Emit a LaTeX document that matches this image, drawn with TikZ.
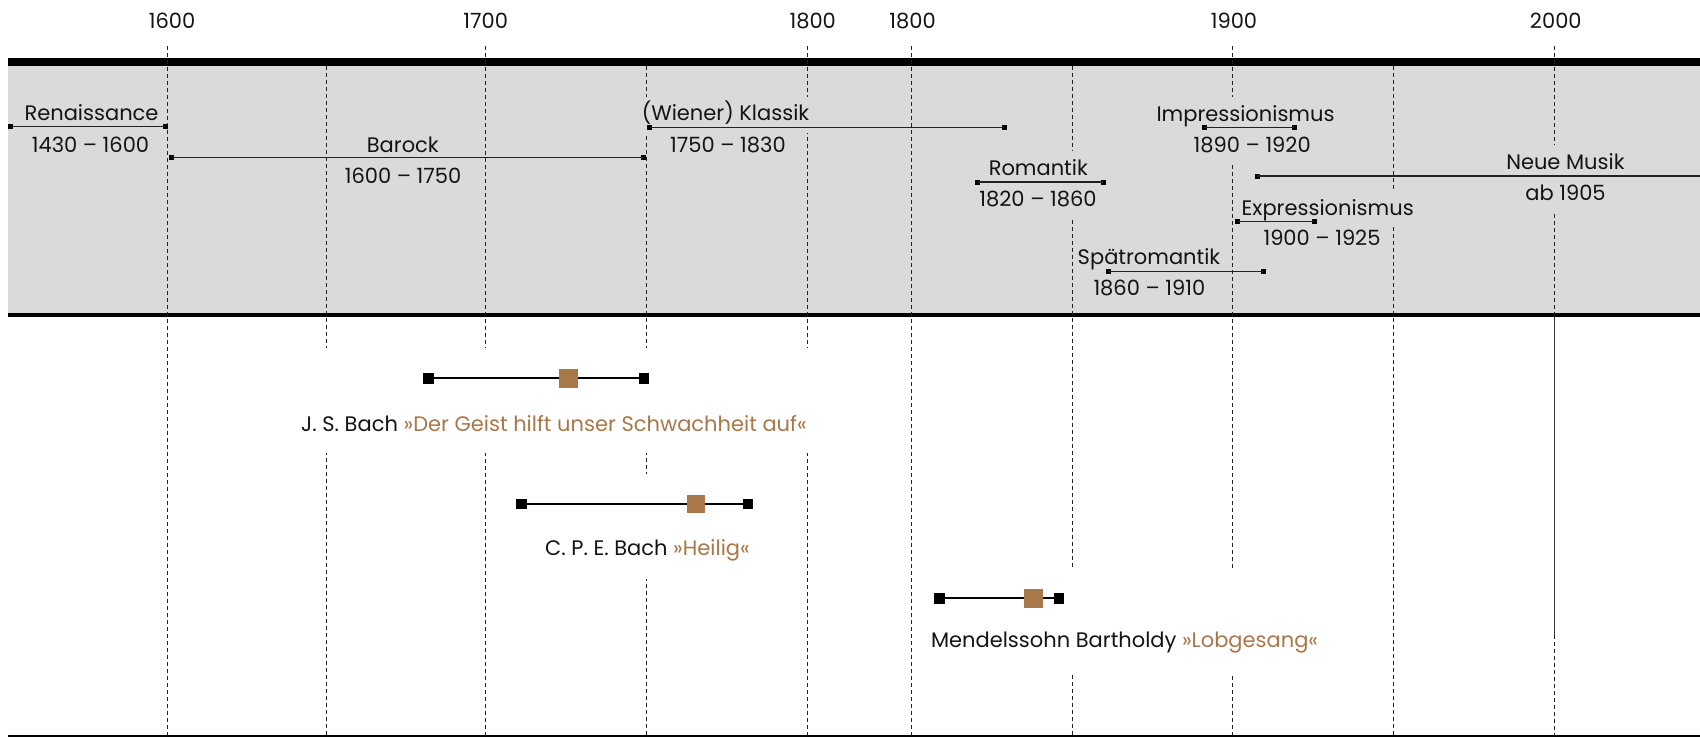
\documentclass[tikz,border=0pt]{standalone}
\usepackage{fontspec}
\setmainfont{Poppins}
\usetikzlibrary{fit}
\definecolor{bandgray}{HTML}{D9DADC}
\definecolor{workbrown}{HTML}{A9784A}
\definecolor{gridcol}{HTML}{222222}
\pgfdeclarelayer{bandlayer}
\pgfdeclarelayer{gridlayer}
\pgfdeclarelayer{masklayer}
\pgfsetlayers{bandlayer,gridlayer,masklayer,main}
\tikzset{
  txt/.style={font=\fontsize{21}{25}\selectfont, inner sep=0pt, anchor=base, text=black!92},
  yearlbl/.style={txt},
  plabel/.style={txt, fill=bandgray, inner xsep=2pt, text height=24pt, text depth=12pt},
  wlabel/.style={txt},
  pmark/.style={fill=black, minimum size=5pt, inner sep=0pt, outer sep=0pt},
  pline/.style={line width=1.2pt, draw=gridcol},
  wmark/.style={fill=black, minimum size=10.5pt, inner sep=0pt, outer sep=0pt},
  wdot/.style={fill=workbrown, minimum size=18.5pt, inner sep=0pt, outer sep=0pt},
  wline/.style={line width=2.2pt, draw=black},
  gridline/.style={line width=1.1pt, draw=gridcol, dash pattern=on 4pt off 3pt},
  denseline/.style={line width=1.6pt, draw=black!80},
  workbox/.style={fill=white, inner xsep=3pt, inner ysep=0pt}
}
\begin{document}
\begin{tikzpicture}[x=1pt,y=-1pt]
\useasboundingbox (0,0) rectangle (1700,737);
% ---------- band ----------
\begin{pgfonlayer}{bandlayer}
  \coordinate (bandTL) at (8,65.7);
  \coordinate (bandBR) at (1700,312.7);
  \fill[bandgray] (bandTL) rectangle (bandBR);
  \coordinate (barTL) at (8,58.3);
  \coordinate (barBR) at (1700,65.7);
  \fill[black] (barTL) rectangle (barBR);
  \coordinate (lowTL) at (8,312.7);
  \coordinate (lowBR) at (1700,316.7);
  \fill[black] (lowTL) rectangle (lowBR);
  \coordinate (baseL) at (8,736);
  \coordinate (baseR) at (1700,736);
  \draw[line width=1.5pt] (baseL) -- (baseR);
\end{pgfonlayer}
% ---------- grid ----------
\begin{pgfonlayer}{gridlayer}
  \foreach \n/\x in {a/167.2,c/485.3,e/807.7,f/911.3,h/1232.8}{
    \coordinate (g\n top) at (\x,46);
    \coordinate (g\n bot) at (\x,736);
    \draw[gridline] (g\n top) -- (g\n bot);
  }
  \coordinate (gjtop) at (1554.3,46);
  \coordinate (gjmidA) at (1554.3,316.7);
  \coordinate (gjmidB) at (1554.3,635);
  \coordinate (gjbot) at (1554.3,736);
  \draw[gridline] (gjtop) -- (gjmidA);
  \draw[denseline] (gjmidA) -- (gjmidB);
  \draw[gridline] (gjmidB) -- (gjbot);
  \foreach \n/\x in {b/326.4,d/646.8,g/1072.4,i/1393.5}{
    \coordinate (g\n top) at (\x,65.7);
    \coordinate (g\n bot) at (\x,736);
    \draw[gridline] (g\n top) -- (g\n bot);
  }
\end{pgfonlayer}
% ---------- year labels ----------
\node[yearlbl] (y1600) at (172,28.3) {1600};
\node[yearlbl] (y1700) at (485.7,28.3) {1700};
\node[yearlbl] (y1800a) at (812.7,28.3) {1800};
\node[yearlbl] (y1800b) at (912.6,28.3) {1800};
\node[yearlbl] (y1900) at (1234,28.3) {1900};
\node[yearlbl] (y2000) at (1555.8,28.3) {2000};
% ---------- periods ----------
% Renaissance
\node[plabel] (renN) at (91.5,120.7) {Renaissance};
\node[plabel] (renD) at (90.5,152.3) {1430 – 1600};
\node[pmark] (renA) at (10.7,126.7) {};
\node[pmark] (renB) at (165.3,126.7) {};
\draw[pline] (renA.center) -- (renB.center);
% Barock
\node[plabel] (barN) at (402.8,152.3) {Barock};
\node[plabel] (barD) at (403,183.3) {1600 – 1750};
\node[pmark] (barA) at (171.8,157.7) {};
\node[pmark] (barB) at (643.8,157.7) {};
\draw[pline] (barA.center) -- (barB.center);
% Klassik
\node[plabel] (klaN) at (725.5,120.7) {(Wiener) Klassik};
\node[plabel] (klaD) at (728,152.3) {1750 – 1830};
\node[pmark] (klaA) at (649.9,127.7) {};
\node[pmark] (klaB) at (1004.3,127.7) {};
\draw[pline] (klaA.center) -- (klaB.center);
% Romantik
\node[plabel] (romN) at (1038.3,175) {Romantik};
\node[plabel] (romD) at (1038,206.7) {1820 – 1860};
\node[pmark] (romA) at (977.9,182) {};
\node[pmark] (romB) at (1103,182) {};
\draw[pline] (romA.center) -- (romB.center);
% Spaetromantik
\node[plabel] (sroN) at (1149,264) {Spätromantik};
\node[plabel] (sroD) at (1149.4,295) {1860 – 1910};
\node[pmark] (sroA) at (1108,271.7) {};
\node[pmark] (sroB) at (1263,271.7) {};
\draw[pline] (sroA.center) -- (sroB.center);
% Impressionismus
\node[plabel] (impN) at (1245.5,121) {Impressionismus};
\node[plabel] (impD) at (1252.2,152.3) {1890 – 1920};
\node[pmark] (impA) at (1204,127.7) {};
\node[pmark] (impB) at (1294,127.7) {};
\draw[pline] (impA.center) -- (impB.center);
% Neue Musik
\node[plabel] (neuN) at (1565.4,169.3) {Neue Musik};
\node[plabel] (neuD) at (1565.5,200) {ab 1905};
\node[pmark] (neuA) at (1257,176) {};
\coordinate (neuB) at (1700,176);
\draw[pline] (neuA.center) -- (neuB);
% Expressionismus
\node[plabel] (expN) at (1327.7,215) {Expressionismus};
\node[plabel] (expD) at (1322,245) {1900 – 1925};
\node[pmark] (expA) at (1237.8,221.7) {};
\node[pmark] (expB) at (1314.3,221.7) {};
\draw[pline] (expA.center) -- (expB.center);
% ---------- works ----------
% J. S. Bach
\node[wlabel] (jsLab) at (554,431.7) {J. S. Bach \textcolor{workbrown}{»Der Geist hilft unser Schwachheit auf«}};
\coordinate (jsTop) at (554,348.3);
\coordinate (jsBot) at (554,453.3);
\begin{pgfonlayer}{masklayer}
  \node[workbox, fit=(jsLab)(jsTop)(jsBot)] (jsBox) {};
\end{pgfonlayer}
\node[wmark] (jsA) at (428.7,378.3) {};
\node[wmark] (jsB) at (644.2,378.3) {};
\draw[wline] (jsA.center) -- (jsB.center);
\node[wdot] (jsW) at (568.4,378.3) {};
% C. P. E. Bach
\node[wlabel] (cpeLab) at (647.5,555) {C. P. E. Bach \textcolor{workbrown}{»Heilig«}};
\coordinate (cpeTop) at (647.5,474);
\coordinate (cpeBot) at (647.5,579);
\begin{pgfonlayer}{masklayer}
  \node[workbox, fit=(cpeLab)(cpeTop)(cpeBot)] (cpeBox) {};
\end{pgfonlayer}
\node[wmark] (cpeA) at (521.3,504) {};
\node[wmark] (cpeB) at (747.9,504) {};
\draw[wline] (cpeA.center) -- (cpeB.center);
\node[wdot] (cpeW) at (696.2,504) {};
% Mendelssohn
\node[wlabel] (menLab) at (1124.6,647.3) {Mendelssohn Bartholdy \textcolor{workbrown}{»Lobgesang«}};
\coordinate (menTop) at (1124.6,568.3);
\coordinate (menBot) at (1124.6,673.3);
\begin{pgfonlayer}{masklayer}
  \node[workbox, fit=(menLab)(menTop)(menBot)] (menBox) {};
\end{pgfonlayer}
\node[wmark] (menA) at (939.6,598.3) {};
\node[wmark] (menB) at (1059,598.3) {};
\draw[wline] (menA.center) -- (menB.center);
\node[wdot] (menW) at (1033.3,598.3) {};
\end{tikzpicture}
\end{document}
